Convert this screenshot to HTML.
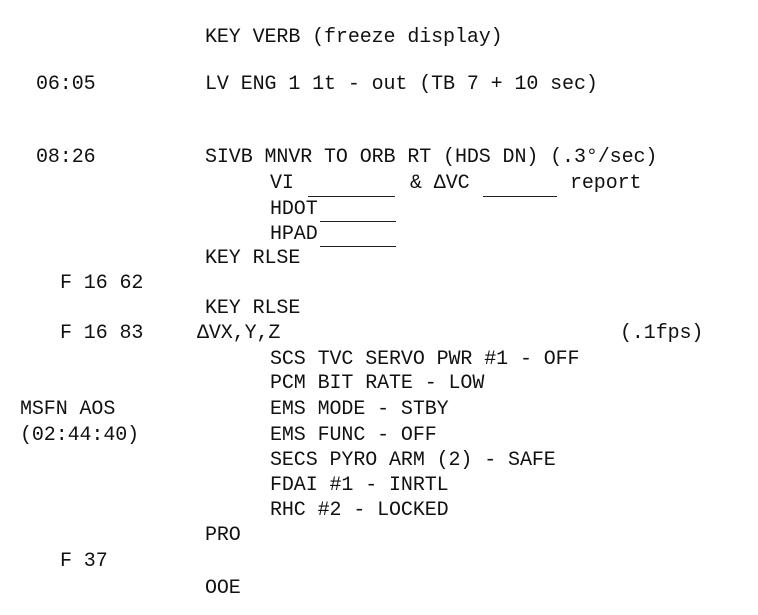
<!DOCTYPE html>
<html><head><style>
body{margin:0;width:758px;height:615px;background:#fff;position:relative;overflow:hidden}
.t{position:absolute;font-family:"Liberation Mono",monospace;font-size:20px;letter-spacing:-0.1px;line-height:24px;color:#111;white-space:pre}
.u{position:absolute;height:1px;background:#222}
</style></head><body>
<div class="t" style="left:205px;top:26px">KEY VERB (freeze display)</div>
<div class="t" style="left:36px;top:73px">06:05</div>
<div class="t" style="left:205px;top:73px">LV ENG 1 1t - out (TB 7 + 10 sec)</div>
<div class="t" style="left:36px;top:146px">08:26</div>
<div class="t" style="left:205px;top:146px">SIVB MNVR TO ORB RT (HDS DN) (.3°/sec)</div>
<div class="t" style="left:270px;top:172px">VI</div>
<div class="u" style="left:308px;top:196px;width:87px"></div>
<div class="t" style="left:410px;top:172px">&amp; ΔVC</div>
<div class="u" style="left:483px;top:196px;width:74px"></div>
<div class="t" style="left:570px;top:172px">report</div>
<div class="t" style="left:270px;top:198px">HDOT</div>
<div class="u" style="left:320px;top:221px;width:76px"></div>
<div class="t" style="left:270px;top:223px">HPAD</div>
<div class="u" style="left:320px;top:246px;width:76px"></div>
<div class="t" style="left:205px;top:247px">KEY RLSE</div>
<div class="t" style="left:60px;top:272px">F 16 62</div>
<div class="t" style="left:205px;top:297px">KEY RLSE</div>
<div class="t" style="left:60px;top:322px">F 16 83</div>
<div class="t" style="left:197px;top:322px">ΔVX,Y,Z</div>
<div class="t" style="left:620px;top:322px">(.1fps)</div>
<div class="t" style="left:270px;top:348px">SCS TVC SERVO PWR #1 - OFF</div>
<div class="t" style="left:270px;top:372px">PCM BIT RATE - LOW</div>
<div class="t" style="left:20px;top:398px">MSFN AOS</div>
<div class="t" style="left:270px;top:398px">EMS MODE - STBY</div>
<div class="t" style="left:20px;top:424px">(02:44:40)</div>
<div class="t" style="left:270px;top:424px">EMS FUNC - OFF</div>
<div class="t" style="left:270px;top:449px">SECS PYRO ARM (2) - SAFE</div>
<div class="t" style="left:270px;top:474px">FDAI #1 - INRTL</div>
<div class="t" style="left:270px;top:499px">RHC #2 - LOCKED</div>
<div class="t" style="left:205px;top:524px">PRO</div>
<div class="t" style="left:60px;top:550px">F 37</div>
<div class="t" style="left:205px;top:577px">OOE</div>
</body></html>
